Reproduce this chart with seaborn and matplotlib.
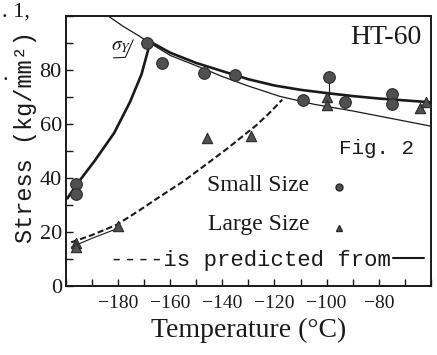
import matplotlib
matplotlib.use("Agg")
import matplotlib.pyplot as plt
import seaborn as sns
import pandas as pd
from matplotlib.ticker import MultipleLocator

# ---- data ----
small_T = [-196, -196, -169, -163, -147, -135, -109, -99, -93, -75, -75]
small_S = [38, 34, 90, 82.5, 79, 78, 69, 77.5, 68, 71, 67.5]

large_T = [-196, -196, -180, -146, -129, -100, -100, -64, -62]
large_S = [16, 14.5, 22.5, 55, 55.5, 70, 67, 66, 68]

# thick solid curve (measured, small size)
thick_T = [-199.5, -196, -189, -181.5, -175.4, -171, -168.3, -167, -160, -150,
           -140, -130, -120, -110, -100, -90, -80, -70, -60]
thick_S = [32.5, 37.5, 46.4, 56.7, 68.2, 78.4, 88, 90, 86.3, 82.5,
           79.5, 76.5, 74.2, 72.6, 71.4, 70.3, 69.4, 68.7, 68.0]

# thin solid curve (yield stress sigma_Y)
yield_T = [-184, -178, -172, -168, -160, -150, -140, -130, -118, -105, -90, -75, -60]
yield_S = [100, 96, 92.5, 90, 85.3, 81.5, 77.5, 74, 70.2, 67.3, 64.8, 62, 59.2]

# dashed curve (predicted, large size)
pred_T = [-198, -190, -180.5, -172, -163, -155, -148, -138, -127, -122, -117]
pred_S = [16.3, 19, 22.8, 28, 33.8, 38.8, 43.8, 51, 59.5, 64, 69]

# short thin solid segment beside the dashed curve
low_T = [-198, -190, -180]
low_S = [14.5, 17.8, 21.5]

# stem between stacked points
stem_T = [-99, -99]
stem_S = [70, 77.5]

# leader of the sigma_Y label
lead_T = [-181.8, -177.2, -174.2]
lead_S = [84.4, 84.6, 91.1]

x_ticks = [-180, -160, -140, -120, -100, -80]
y_ticks = [0, 20, 40, 60, 80]

sns.set_theme(style="ticks")
plt.rcParams['font.family'] = ['Liberation Serif', 'DejaVu Serif']
plt.rcParams['mathtext.fontset'] = 'stix'

fig = plt.figure(figsize=(4.37, 3.55), dpi=100)
fig.patch.set_facecolor('white')
ax = fig.add_axes([0.151, 0.193, 0.835, 0.763])
ax.set_facecolor('white')

ink = '#1a1a1a'
dot = '#505050'

sns.lineplot(data=pd.DataFrame({'T': thick_T, 'S': thick_S}), x='T', y='S',
             sort=False, estimator=None, color=ink, lw=1.9, ax=ax)
sns.lineplot(data=pd.DataFrame({'T': yield_T, 'S': yield_S}), x='T', y='S',
             sort=False, estimator=None, color=ink, lw=0.9, ax=ax)
sns.lineplot(data=pd.DataFrame({'T': pred_T, 'S': pred_S}), x='T', y='S',
             sort=False, estimator=None, color=ink, lw=1.5, ax=ax,
             dashes=False, linestyle=(0, (3, 1.5)))
sns.lineplot(data=pd.DataFrame({'T': low_T, 'S': low_S}), x='T', y='S',
             sort=False, estimator=None, color=ink, lw=0.8, ax=ax)
sns.lineplot(data=pd.DataFrame({'T': stem_T, 'S': stem_S}), x='T', y='S',
             sort=False, estimator=None, color=ink, lw=0.8, ax=ax)
sns.lineplot(data=pd.DataFrame({'T': lead_T, 'S': lead_S}), x='T', y='S',
             sort=False, estimator=None, color=ink, lw=0.8, ax=ax)

sns.scatterplot(data=pd.DataFrame({'T': small_T, 'S': small_S}), x='T', y='S',
                marker='o', s=70, color=dot, edgecolor='#2a2a2a', linewidth=0.8,
                ax=ax, zorder=5)
sns.scatterplot(data=pd.DataFrame({'T': large_T, 'S': large_S}), x='T', y='S',
                marker='^', s=55, color=dot, edgecolor='#2a2a2a', linewidth=0.8,
                ax=ax, zorder=5)

ax.set_xlim(-200, -60)
ax.set_ylim(0, 100)
ax.set_xticks(x_ticks)
ax.set_xticklabels([f"\u2212{abs(v)}" for v in x_ticks])
ax.set_yticks(y_ticks)
ax.set_yticklabels([str(v) for v in y_ticks])
ax.xaxis.set_minor_locator(MultipleLocator(10))
ax.yaxis.set_minor_locator(MultipleLocator(10))
ax.tick_params(which='both', direction='in', length=5, width=1.0, color=ink,
               top=False, right=False)
ax.tick_params(axis='x', labelsize=14, pad=6, labelcolor=ink)
ax.tick_params(axis='y', labelsize=16, pad=3, labelcolor=ink)
for sp in ax.spines.values():
    sp.set_visible(True)
    sp.set_color(ink)
    sp.set_linewidth(1.4)

ax.set_xlabel("Temperature (\u00b0C)", fontsize=20, color=ink, labelpad=4)
ax.set_ylabel("Stress (kg/mm\u00b2)", fontsize=17, color=ink,
              family=['Liberation Mono', 'DejaVu Sans Mono'])
ax.yaxis.set_label_coords(-0.08, 0.55)

# annotations inside the plot
ax.text(-77.4, 92, "HT-60", fontsize=20, ha='center', va='center', color=ink)
ax.text(-179, 88.5, r"$\sigma_Y$", fontsize=14, ha='center', va='center', color=ink)
ax.text(-81, 50.9, "Fig. 2", fontsize=15, ha='center', va='center', color=ink,
        family=['Liberation Mono', 'DejaVu Sans Mono'])
ax.text(-126.4, 37.3, "Small Size", fontsize=17, ha='center', va='center', color=ink)
ax.text(-126.2, 22.9, "Large Size", fontsize=17, ha='center', va='center', color=ink)
ax.plot([-95.2], [36.8], marker='o', ms=5, color=dot, mec='#2a2a2a', ls='none')
ax.plot([-95.4], [21.7], marker='^', ms=5, color=dot, mec='#2a2a2a', ls='none')
ax.text(-75.5, 9.5, "----is predicted from", fontsize=16, ha='right', va='center',
        color=ink, family=['Liberation Mono', 'DejaVu Sans Mono'])
ax.plot([-74.5, -62.5], [10.5, 10.5], color=ink, lw=1.5)

# fragments of neighbouring text in the scan
fig.text(2/437, 1 - 12/355, ". 1,", fontsize=16, color=ink, va='center')
fig.text(2/437, 1 - 75/355, ".", fontsize=16, color=ink, va='center')

fig.savefig("out.png", dpi=100, facecolor='white')
